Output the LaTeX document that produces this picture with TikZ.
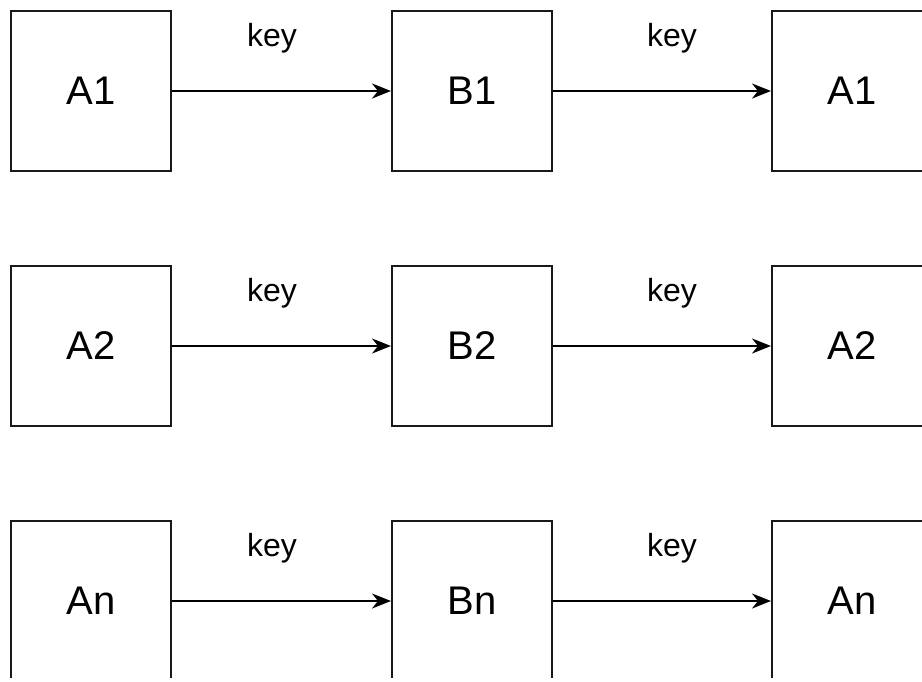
\documentclass[tikz,border=0pt]{standalone}
\usepackage{fontspec}
\setmainfont{Liberation Sans}
\usetikzlibrary{arrows.meta}
\begin{document}
\begin{tikzpicture}[x=1pt,y=-1pt,
  box/.style={draw=black!90, line width=2pt, minimum width=160pt, minimum height=160pt, inner sep=0pt, font=\fontsize{40pt}{44pt}\selectfont},
  conn/.style={draw=black, line width=2pt, -{Stealth[length=19pt,width=15pt,inset=6pt]}},
  lbl/.style={font=\fontsize{32pt}{36pt}\selectfont, anchor=base, inner sep=0pt}]
\useasboundingbox (0,0) rectangle (922,681);
\clip (0,0) rectangle (922,677);
\foreach \r/\a/\b [count=\i from 0] in {1/A1/B1, 2/A2/B2, n/An/Bn}{
  \pgfmathsetmacro{\yy}{91+255*\i}
  \node[box] (a\r) at (91,\yy) {\raisebox{-1.5pt}{\a}};
  \node[box] (b\r) at (472,\yy) {\raisebox{-1.5pt}{\b}};
  \node[box] (c\r) at (852,\yy) {\raisebox{-1.5pt}{\a}};
  \draw[conn] (a\r) -- (b\r);
  \draw[conn] (b\r) -- (c\r);
  \node[lbl] (k\r a) at (272,\yy-44.3) {key};
  \node[lbl] (k\r b) at (672,\yy-44.3) {key};
}
\end{tikzpicture}
\end{document}
